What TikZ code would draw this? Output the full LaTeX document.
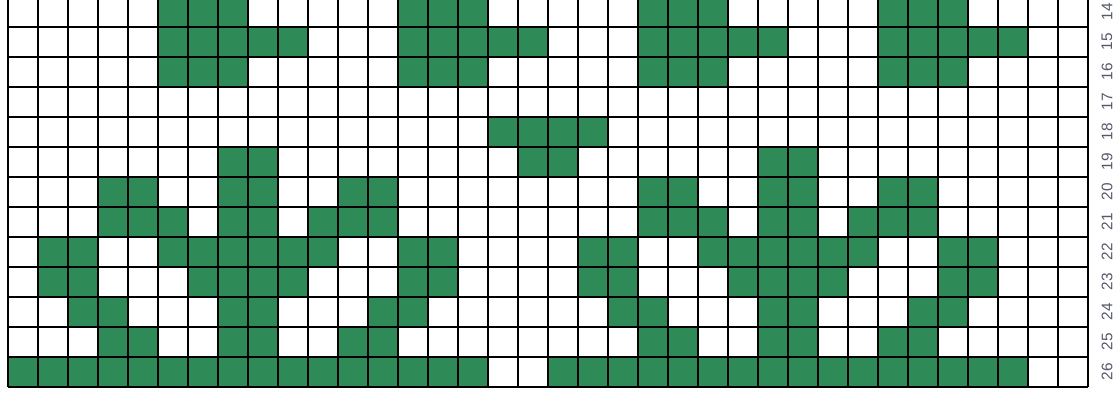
\documentclass[tikz,border=0pt]{standalone}
\usepackage{fontspec}
\setmainfont{Liberation Sans}
\definecolor{cellgreen}{RGB}{46,139,87}
\definecolor{labelcol}{RGB}{85,88,105}
\begin{document}
\begin{tikzpicture}[x=0.75pt,y=-0.75pt,
  cellfill/.style={fill=cellgreen},
  gridline/.style={line width=1.5pt,black},
  rowlabel/.style={rotate=90,text=labelcol,font=\fontsize{11.5}{13}\selectfont,inner sep=0pt}]
\useasboundingbox (0,0) rectangle (1115,394);
\clip (0,0) rectangle (1115,394);
\fill[white] (0,0) rectangle (1115,394);
% green cells: row index / column list
\foreach \r/\cl in {
  0/{5,6,7,13,14,15,21,22,23,29,30,31},
  1/{5,6,7,8,9,13,14,15,16,17,21,22,23,24,25,29,30,31,32,33},
  2/{5,6,7,13,14,15,21,22,23,29,30,31},
  4/{16,17,18,19},
  5/{7,8,17,18,25,26},
  6/{3,4,7,8,11,12,21,22,25,26,29,30},
  7/{3,4,5,7,8,10,11,12,21,22,23,25,26,28,29,30},
  8/{1,2,5,6,7,8,9,10,13,14,19,20,23,24,25,26,27,28,31,32},
  9/{1,2,6,7,8,9,13,14,19,20,24,25,26,27,31,32},
  10/{2,3,7,8,12,13,20,21,25,26,30,31},
  11/{3,4,7,8,11,12,21,22,25,26,29,30},
  12/{0,1,2,3,4,5,6,7,8,9,10,11,12,13,14,15,18,19,20,21,22,23,24,25,26,27,28,29,30,31,32,33}}{
  \foreach \c in \cl {
    \fill[cellfill] ({8.3+30*\c},{-3.3+30*\r}) rectangle ++(30,30);
  }
}
% grid lines
\foreach \c in {0,...,36} {
  \draw[gridline] ({8.3+30*\c},-3.3) -- ({8.3+30*\c},386.7);
}
\foreach \r in {0,...,13} {
  \draw[gridline] (8.3,{-3.3+30*\r}) -- (1088.3,{-3.3+30*\r});
}
% row labels
\foreach \r [evaluate=\r as \n using int(14+\r)] in {0,...,12} {
  \node[rowlabel] (lab\n) at (1107,{11.7+30*\r}) {\n};
}
\end{tikzpicture}
\end{document}
